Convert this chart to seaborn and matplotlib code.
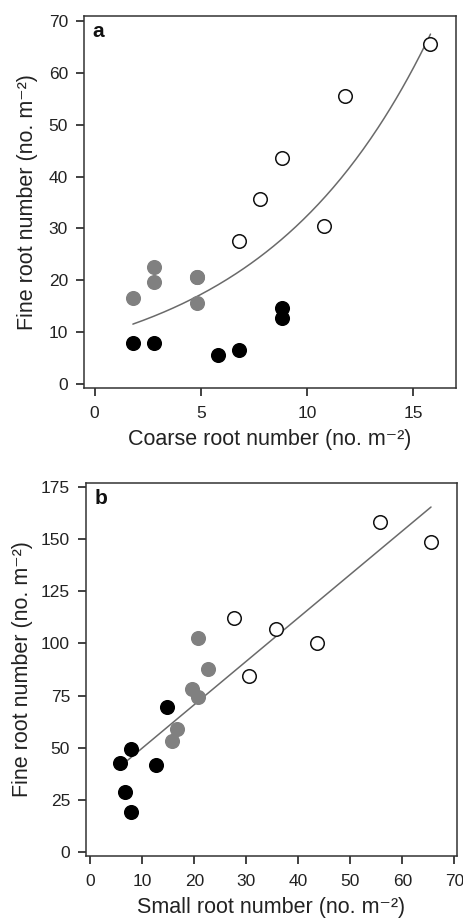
import numpy as np
import pandas as pd
import matplotlib
matplotlib.use("Agg")
import matplotlib.pyplot as plt
import seaborn as sns

# ---- data (one entry per plot) ----
group = ["black"] * 6 + ["gray"] * 6 + ["white"] * 6
coarse_root = [5.8, 6.8, 1.8, 2.8, 8.8, 8.8,
               4.8, 1.8, 2.8, 4.8, 4.8, 2.8,
               6.8, 10.8, 7.8, 8.8, 11.8, 15.8]
small_root = [5.6, 6.6, 7.8, 7.8, 12.7, 14.7,
              15.6, 16.6, 19.6, 20.6, 20.6, 22.6,
              27.6, 30.5, 35.7, 43.6, 55.6, 65.5]
fine_root = [42.5, 29.0, 19.4, 49.2, 41.7, 69.6,
             53.2, 58.8, 78.3, 74.4, 102.7, 87.9,
             112.1, 84.4, 107.0, 100.2, 158.3, 148.4]

xticks_a = [0, 5, 10, 15]
yticks_a = [0, 10, 20, 30, 40, 50, 60, 70]
xticks_b = [0, 10, 20, 30, 40, 50, 60, 70]
yticks_b = [0, 25, 50, 75, 100, 125, 150, 175]

df = pd.DataFrame({"group": group, "coarse": coarse_root,
                   "small": small_root, "fine": fine_root})

sns.set_theme(style="ticks")
plt.rcParams["font.family"] = ["Liberation Sans", "DejaVu Sans"]
plt.rcParams["text.color"] = "#222222"
plt.rcParams["axes.labelcolor"] = "#222222"
plt.rcParams["xtick.color"] = "#333333"
plt.rcParams["ytick.color"] = "#333333"
plt.rcParams["xtick.labelcolor"] = "#222222"
plt.rcParams["ytick.labelcolor"] = "#222222"

fig = plt.figure(figsize=(4.63, 9.19), dpi=100)
W, H = 463, 919
def add_ax(l, r, t, b):
    return fig.add_axes([l / W, 1 - b / H, (r - l) / W, (b - t) / H])

ax_a = add_ax(84, 456, 16, 388)
ax_b = add_ax(86, 457, 483, 856)

face = {"black": "black", "gray": "#808080", "white": "white"}
edge = {"black": "black", "gray": "#808080", "white": "#111111"}
line_kws = {"color": "#6a6a6a", "lw": 1.1}


def exp_fit(x, y):
    # nonlinear least squares y = a*exp(b*x) (Gauss-Newton, start from log-linear)
    x = np.asarray(x, float); y = np.asarray(y, float)
    b, la = np.polyfit(x, np.log(y), 1)
    a = np.exp(la)
    for _ in range(200):
        e = np.exp(b * x)
        r = y - a * e
        J = np.column_stack([e, a * x * e])
        step, *_ = np.linalg.lstsq(J, r, rcond=None)
        a += step[0]; b += step[1]
        if np.abs(step).max() < 1e-10:
            break
    return a, b


def scatter(ax, x, y):
    for g in ["gray", "black", "white"]:
        sub = df[df["group"] == g]
        sns.scatterplot(data=sub, x=x, y=y, ax=ax, s=95, color=face[g],
                        edgecolor=edge[g], linewidth=1.1, zorder=3, legend=False)

# panel a: exponential fit
a, b = exp_fit(df["coarse"], df["small"])
xs = np.linspace(df["coarse"].min(), df["coarse"].max(), 200)
sns.lineplot(x=xs, y=a * np.exp(b * xs), ax=ax_a, **line_kws)
scatter(ax_a, "coarse", "small")

# panel b: linear fit
sns.regplot(data=df, x="small", y="fine", ax=ax_b, scatter=False, ci=None,
            truncate=True, line_kws=line_kws)
scatter(ax_b, "small", "fine")

ax_a.set_xlim(-0.5, 17.0)
ax_a.set_ylim(-0.8, 71.0)
ax_a.set_xticks(xticks_a)
ax_a.set_yticks(yticks_a)
ax_b.set_xlim(-0.85, 70.5)
ax_b.set_ylim(-1.8, 176.8)
ax_b.set_xticks(xticks_b)
ax_b.set_yticks(yticks_b)

for ax, lab, xl, ylp in [(ax_a, "a", "Coarse root number (no. m\u207b\u00b2)", 8),
                         (ax_b, "b", "Small root number (no. m\u207b\u00b2)", 6)]:
    ax.set_xlabel(xl, fontsize=15.5, labelpad=6)
    ax.set_ylabel("Fine root number (no. m\u207b\u00b2)", fontsize=15.5, labelpad=ylp)
    ax.tick_params(labelsize=12.5, length=6, width=1.3)
    ax.tick_params(axis="y", pad=5.5)
    ax.tick_params(axis="x", pad=7)
    for s in ax.spines.values():
        s.set_linewidth(1.1)
        s.set_color("#333333")
    ax.text(0.022, 0.985, lab, transform=ax.transAxes, fontsize=15,
            fontweight="bold", va="top", ha="left", color="#111111")

fig.savefig("out.png", dpi=100)
